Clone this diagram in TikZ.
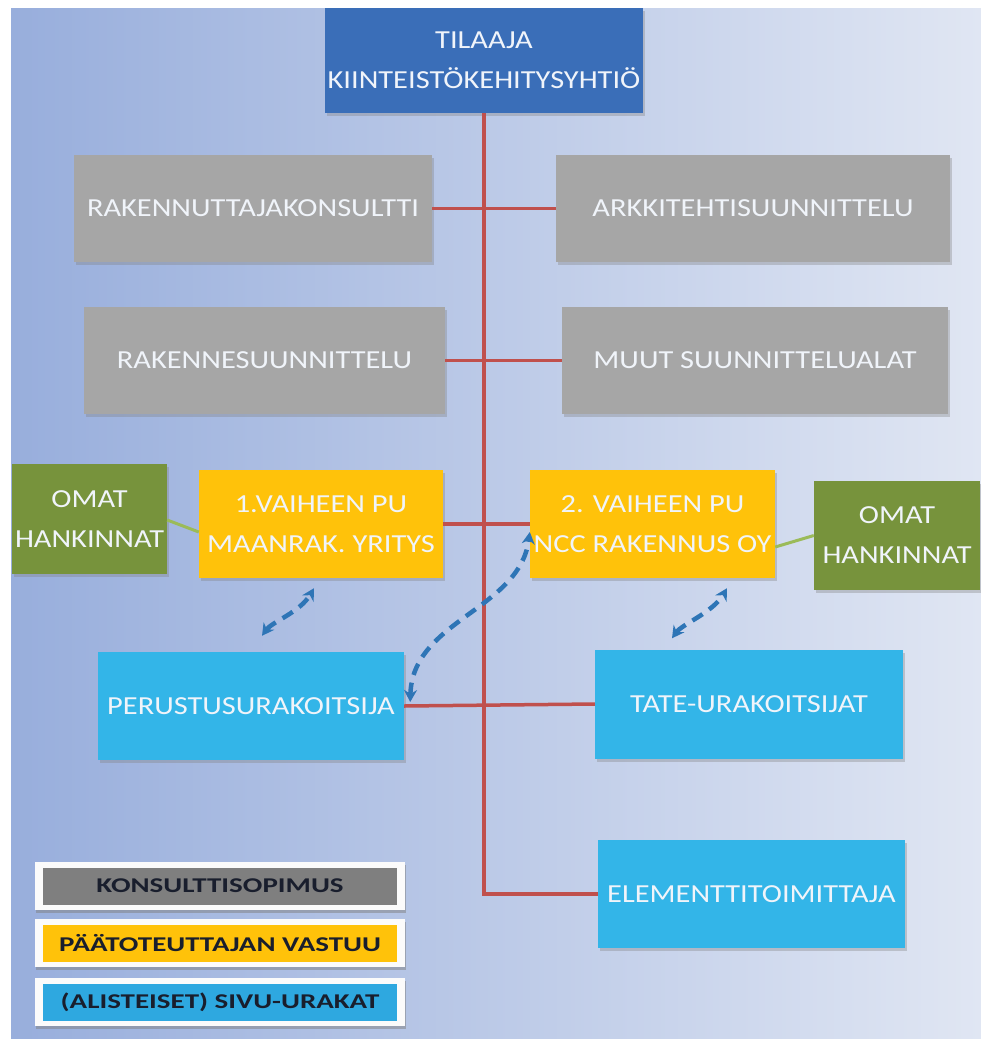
\documentclass[tikz,border=0pt]{standalone}
\usepackage{fontspec}
\setmainfont{Carlito}[FakeStretch=1.17]
\newfontfamily\legendfont{Carlito}[FakeStretch=1.38]
\usetikzlibrary{shadows,arrows.meta,calc}

\definecolor{bgleft}{RGB}{152,174,220}
\definecolor{bgright}{RGB}{224,230,243}
\definecolor{tilaajablue}{RGB}{58,110,184}
\definecolor{konsgray}{RGB}{166,166,166}
\definecolor{puyellow}{RGB}{255,194,10}
\definecolor{omatgreen}{RGB}{119,147,60}
\definecolor{sivucyan}{RGB}{51,181,232}
\definecolor{boxtext}{RGB}{240,244,250}
\definecolor{linered}{RGB}{192,80,77}
\definecolor{linegreen}{RGB}{155,187,89}
\definecolor{arrowblue}{RGB}{46,117,182}
\definecolor{leggray}{RGB}{127,127,127}
\definecolor{legcyan}{RGB}{46,168,224}
\definecolor{legtext}{RGB}{25,30,45}

\begin{document}
\begin{tikzpicture}[x=1pt, y=-1pt,
    box/.style={minimum height=107pt, inner sep=1pt, align=center, text=boxtext,
        font=\fontsize{26}{40}\selectfont,
        drop shadow={shadow xshift=2pt, shadow yshift=-3pt, opacity=0.35}},
    graybox/.style={box, fill=konsgray},
    yellowbox/.style={box, fill=puyellow},
    greenbox/.style={box, fill=omatgreen},
    cyanbox/.style={box, fill=sivucyan},
    redline/.style={draw=linered, line width=3.5pt},
    greenline/.style={draw=linegreen, line width=3pt},
    dasharrow/.style={draw=arrowblue, line width=4.5pt, dash pattern=on 12pt off 8pt,
        {Stealth[length=12pt,width=13pt]}-{Stealth[length=12pt,width=13pt]}},
    legendbox/.style={fill=white!97!gray, minimum width=370pt, minimum height=48pt,
        drop shadow={shadow xshift=1pt, shadow yshift=-3pt, opacity=0.5}},
    legendbar/.style={minimum width=354pt, minimum height=37pt, inner sep=1pt,
        text=legtext, font=\legendfont\bfseries\fontsize{21}{24}\selectfont}
]
    \useasboundingbox (0,0) rectangle (981,1039);
    \fill [left color=bgleft, right color=bgright] (11,8) rectangle (981,1039);

    % boxes
    \node [box, fill=tilaajablue, minimum width=318pt, minimum height=105pt] (tilaaja) at (484,60.5) {TILAAJA\\KIINTEISTÖKEHITYSYHTIÖ};
    \node [graybox, minimum width=358pt] (konsultti) at (253,208.5) {RAKENNUTTAJAKONSULTTI};
    \node [graybox, minimum width=394pt] (arkkit) at (753,208.5) {ARKKITEHTISUUNNITTELU};
    \node [graybox, minimum width=361pt] (rakenne) at (264.5,360.5) {RAKENNESUUNNITTELU};
    \node [graybox, minimum width=386pt] (muut) at (755,360.5) {MUUT SUUNNITTELUALAT};
    \node [greenbox, minimum width=155pt, minimum height=110pt] (omat1) at (89.5,519) {OMAT\\HANKINNAT};
    \node [yellowbox, minimum width=244pt, minimum height=108pt] (vaihe1) at (321,524) {1.VAIHEEN PU\\MAANRAK. YRITYS};
    \node [yellowbox, minimum width=245pt, minimum height=108pt] (vaihe2) at (652.5,524) {2. VAIHEEN PU\\NCC RAKENNUS OY};
    \node [greenbox, minimum width=166pt, minimum height=109pt] (omat2) at (897,535.5) {OMAT\\HANKINNAT};
    \node [cyanbox, minimum width=306pt, minimum height=108pt] (perustus) at (251,706) {PERUSTUSURAKOITSIJA};
    \node [cyanbox, minimum width=308pt, minimum height=109pt] (tate) at (749,704) {TATE-URAKOITSIJAT};
    \node [cyanbox, minimum width=307pt, minimum height=108pt] (elementti) at (751.5,894) {ELEMENTTITOIMITTAJA};

    % red lines
    \draw [redline] (tilaaja.south) -- (tilaaja.south |- elementti.west) -- (elementti.west);
    \draw [redline] (konsultti.east) -- (arkkit.west);
    \draw [redline] (rakenne.east) -- (muut.west);
    \draw [redline] (vaihe1.east) -- (vaihe2.west);
    \draw [redline] (perustus.east) -- (tate.west);

    % green lines
    \draw [greenline] ($(omat1.east)+(0,1)$) -- ($(vaihe1.west)+(0,8)$);
    \draw [greenline] ($(vaihe2.east)+(0,23)$) -- (omat2.west);

    % dashed arrows
    \draw [dasharrow] ($(perustus.north)+(11,-16)$) .. controls ($(perustus.north)+(21,-30)$) and ($(vaihe1.south)+(-21,34)$) .. ($(vaihe1.south)+(-7,10)$);
    \draw [dasharrow] ($(perustus.east)+(6,-4)$) .. controls ($(perustus.east)+(8,-86)$) and ($(vaihe2.west)+(-10,86)$) .. ($(vaihe2.west)+(0,8)$);
    \draw [dasharrow] ($(tate.north)+(-77,-11)$) .. controls ($(tate.north)+(-67,-25)$) and ($(vaihe2.south)+(60.5,34)$) .. ($(vaihe2.south)+(74.5,10)$);

    % legend
    \node [legendbox] (leg1) at (220,886) {};
    \node [legendbar, fill=leggray] (leg1bar) at (leg1) {KONSULTTISOPIMUS};
    \node [legendbox] (leg2) at (220,943) {};
    \node [legendbar, fill=puyellow] (leg2bar) at (leg2) {PÄÄTOTEUTTAJAN VASTUU};
    \node [legendbox] (leg3) at (220,1002) {};
    \node [legendbar, fill=legcyan] (leg3bar) at (leg3) {(ALISTEISET) SIVU-URAKAT};
\end{tikzpicture}
\end{document}
